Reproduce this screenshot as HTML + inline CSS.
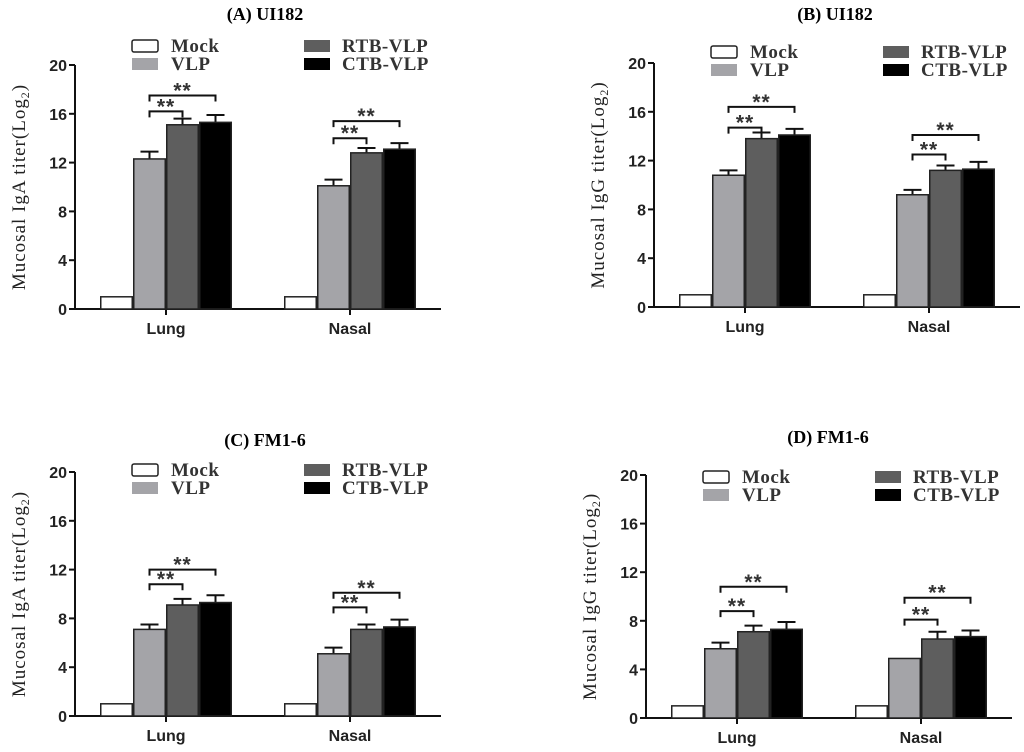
<!DOCTYPE html>
<html><head><meta charset="utf-8"><style>
html,body{margin:0;padding:0;background:#fff;}
svg{display:block;}
</style></head><body>
<svg id="chart" width="1024" height="752" xmlns="http://www.w3.org/2000/svg"></svg>
<script>
const categories = ["Lung", "Nasal"];
const seriesNames = ["Mock", "VLP", "RTB-VLP", "CTB-VLP"];
const yTicks = [0, 4, 8, 12, 16, 20];
const titles = ["(A) UI182", "(B) UI182", "(C) FM1-6", "(D) FM1-6"];
const yLabels = ["IgA", "IgG", "IgA", "IgG"];
// values[panel][category][series]
const valuesA = [[1, 12.3, 15.1, 15.3], [1, 10.1, 12.8, 13.1]];
const errorsA = [[0, 0.6, 0.5, 0.6], [0, 0.5, 0.4, 0.5]];
const valuesB = [[1, 10.8, 13.8, 14.1], [1, 9.2, 11.2, 11.3]];
const errorsB = [[0, 0.4, 0.5, 0.5], [0, 0.4, 0.4, 0.6]];
const valuesC = [[1, 7.1, 9.1, 9.3], [1, 5.1, 7.1, 7.3]];
const errorsC = [[0, 0.4, 0.5, 0.6], [0, 0.5, 0.4, 0.6]];
const valuesD = [[1, 5.7, 7.1, 7.3], [1, 4.9, 6.5, 6.7]];
const errorsD = [[0, 0.5, 0.5, 0.6], [0, 0, 0.6, 0.5]];
// significance bracket heights [category][short,long]
const sigA = [[16.2, 17.5], [14.0, 15.4]];
const sigB = [[14.7, 16.4], [12.5, 14.1]];
const sigC = [[10.8, 12.0], [8.9, 10.1]];
const sigD = [[8.8, 10.8], [8.1, 9.9]];

const allValues = [valuesA, valuesB, valuesC, valuesD];
const allErrors = [errorsA, errorsB, errorsC, errorsD];
const allSig = [sigA, sigB, sigC, sigD];
const layout = [
  {ax: 75, y0: 309, y20: 65, tx: 265, ty: 20, lg: -19},
  {ax: 654, y0: 307, y20: 63, tx: 835, ty: 20, lg: -11},
  {ax: 75, y0: 716, y20: 472, tx: 265, ty: 446, lg: -2},
  {ax: 646, y0: 718, y20: 475, tx: 828, ty: 443, lg: 2}
];
const fills = ["#ffffff", "#a4a4a8", "#5e5e5e", "#000000"];
const svg = document.getElementById('chart');
const NS = "http://www.w3.org/2000/svg";
function mk(tag, attrs, parent) {
  const e = document.createElementNS(NS, tag);
  for (const k in attrs) e.setAttribute(k, attrs[k]);
  (parent || svg).appendChild(e);
  return e;
}
const BW = 33;
layout.forEach((L, p) => {
  const g = mk('g', {});
  
  
  const yS = v => L.y0 - (L.y0 - L.y20) * v / 20;
  const xS = (c, s) => L.ax + 25 + c * 184 + s * BW;
  const t = mk('text', {x: L.tx, y: L.ty, 'text-anchor': 'middle', 'font-family': 'Liberation Serif, serif', 'font-weight': 'bold', 'font-size': 18}, g);
  t.textContent = titles[p];
  
  
  mk('line', {x1: L.ax, y1: L.y20, x2: L.ax, y2: L.y0, stroke: '#111', 'stroke-width': 2}, g);
  mk('line', {x1: L.ax, y1: L.y0, x2: L.ax + 366, y2: L.y0, stroke: '#111', 'stroke-width': 2}, g);
  yTicks.forEach(v => {
    mk('line', {x1: L.ax - 6, y1: yS(v), x2: L.ax, y2: yS(v), stroke: '#111', 'stroke-width': 2}, g);
    const tl = mk('text', {x: L.ax - 8, y: yS(v) + 6, 'text-anchor': 'end', 'font-family': 'Liberation Sans, sans-serif', 'font-weight': 'bold', 'font-size': 16, fill: '#222'}, g);
    tl.textContent = v;
    
    
  });
  const yl = mk('text', {transform: `translate(${L.ax - 50},${(L.y0 + L.y20) / 2}) rotate(-90)`, 'text-anchor': 'middle', 'font-family': 'Liberation Serif, serif', 'font-size': 19, fill: '#222', 'letter-spacing': 1}, g);
  yl.innerHTML = 'Mucosal ' + yLabels[p] + ' titer(Log<tspan font-size="12" dy="4">2</tspan><tspan dy="-4">)</tspan>';
  
  
  categories.forEach((cat, c) => {
    const cx = xS(c, 2);
    mk('line', {x1: cx, y1: L.y0, x2: cx, y2: L.y0 + 6, stroke: '#111', 'stroke-width': 2}, g);
    const cl = mk('text', {x: cx, y: L.y0 + 25, 'text-anchor': 'middle', 'font-family': 'Liberation Sans, sans-serif', 'font-weight': 'bold', 'font-size': 16, fill: '#222'}, g);
    cl.textContent = cat;
    
    
    seriesNames.forEach((s, si) => {
      const v = allValues[p][c][si], e = allErrors[p][c][si];
      const x = xS(c, si);
      if (e > 0) {
        mk('line', {x1: x + BW / 2, y1: yS(v), x2: x + BW / 2, y2: yS(v + e), stroke: '#111', 'stroke-width': 2}, g);
        mk('line', {x1: x + BW / 2 - 9, y1: yS(v + e), x2: x + BW / 2 + 9, y2: yS(v + e), stroke: '#111', 'stroke-width': 2}, g);
      }
      const r = mk('rect', {x: x + 0.75, y: yS(v), width: BW - 1.5, height: L.y0 - yS(v), fill: fills[si], stroke: '#222', 'stroke-width': 1.5}, g);
      
      
    });
    [2, 3].forEach((target, k) => {
      const h = yS(allSig[p][c][k]);
      const x1 = xS(c, 1) + BW / 2, x2 = xS(c, target) + BW / 2;
      const br = mk('path', {d: `M${x1},${h + 6}V${h}H${x2}V${h + 6}`, fill: 'none', stroke: '#111', 'stroke-width': 2}, g);
      
      
      const st = mk('text', {x: (x1 + x2) / 2, y: h + 2, 'text-anchor': 'middle', 'font-family': 'Liberation Sans, sans-serif', 'font-weight': 'bold', 'font-size': 21, fill: '#333', 'letter-spacing': 1}, g);
      st.textContent = '**';
      
      
    });
  });
  const lx = [L.ax + 57, L.ax + 57, L.ax + 229, L.ax + 229];
  const ly = [L.y20 + L.lg, L.y20 + L.lg + 18, L.y20 + L.lg, L.y20 + L.lg + 18];
  seriesNames.forEach((s, si) => {
    const lr = mk('rect', {x: lx[si], y: ly[si] - 6, width: 26, height: 12, fill: fills[si], stroke: si === 0 ? '#222' : 'none', 'stroke-width': 1.5, rx: si === 0 ? 2 : 0}, g);
    
    
    const lt = mk('text', {x: lx[si] + (si < 2 ? 39 : 38), y: ly[si] + 6, 'font-family': 'Liberation Serif, serif', 'font-size': 19, 'font-weight': 'bold', fill: '#333', 'letter-spacing': 0.5}, g);
    lt.textContent = s;
    
    
  });
});
</script>
</body></html>
